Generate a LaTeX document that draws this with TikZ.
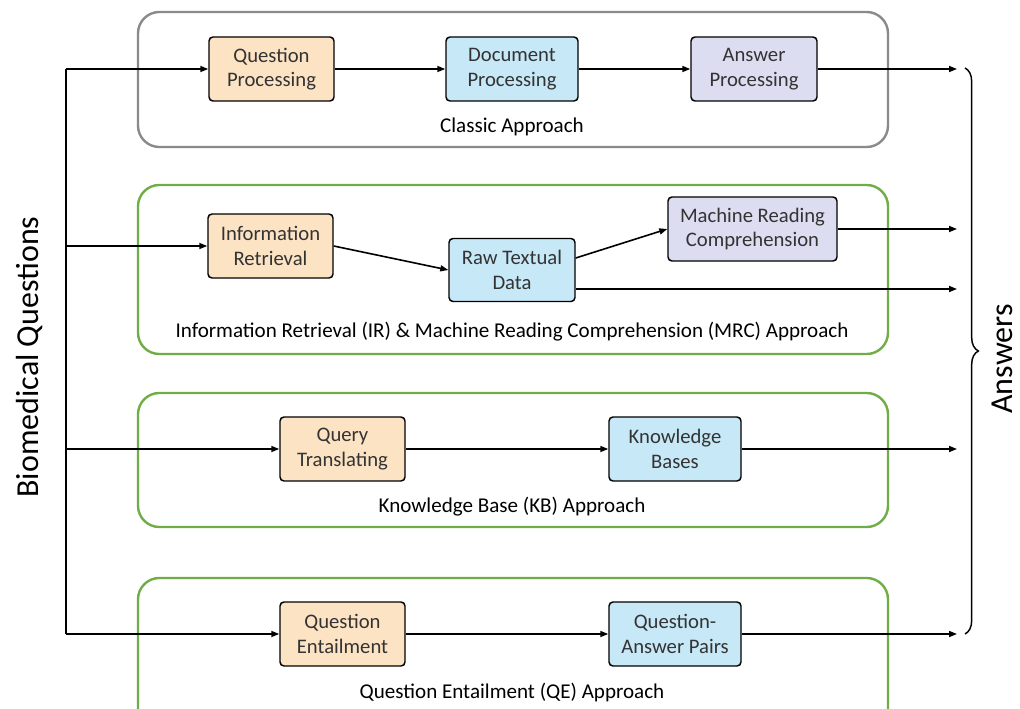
\documentclass[tikz,border=0pt]{standalone}
\usepackage{fontspec}
\setmainfont{Carlito}
\usetikzlibrary{arrows.meta,decorations.pathreplacing}
\definecolor{orangefill}{HTML}{FCE3C4}
\definecolor{bluefill}{HTML}{C6E8F7}
\definecolor{purplefill}{HTML}{DCDDF1}
\definecolor{greenline}{HTML}{70AD47}
\definecolor{grayline}{HTML}{8A8A8A}
\begin{document}
\begin{tikzpicture}[x=0.75pt,y=-0.75pt,
  procbox/.style={draw=black, line width=1.1pt, rounded corners=3pt, align=center, inner sep=0pt,
    minimum height=48pt, text=black!80, font=\fontsize{15.5}{18.5}\selectfont},
  container/.style={line width=1.8pt, rounded corners=16pt},
  grouplabel/.style={font=\fontsize{15.8}{18.5}\selectfont, text=black, inner sep=0pt},
  flow/.style={line width=1.2pt, -{Triangle[length=6pt,width=4.5pt]}},
  trunkline/.style={line width=1.2pt},
  sidelabel/.style={font=\fontsize{24}{28}\selectfont, rotate=90, inner sep=0pt}
]
\useasboundingbox (0,0) rectangle (1020,709);

% containers
\draw[container, draw=grayline] (138,12) rectangle (888,147);
\draw[container, draw=greenline] (138,185) rectangle (888,354);
\draw[container, draw=greenline] (138,393) rectangle (888,527);
\draw[container, draw=greenline] (138,578) rectangle (888,740);

% classic
\node[procbox, fill=orangefill, minimum width=93.75pt] (qp) at (271.5,69) {Question\\Processing};
\node[procbox, fill=bluefill, minimum width=99pt] (dp) at (512,69) {Document\\Processing};
\node[procbox, fill=purplefill, minimum width=94.5pt] (ap) at (754,69) {Answer\\Processing};
\node[grouplabel] (l1) at (512,127) {Classic Approach};

% IR & MRC
\node[procbox, fill=orangefill, minimum width=93.75pt] (ir) at (270.5,246) {Information\\Retrieval};
\node[procbox, fill=bluefill, minimum width=94.5pt, minimum height=47.25pt] (rtd) at (512,270) {Raw Textual\\Data};
\node[procbox, fill=purplefill, minimum width=126.75pt] (mrc) at (752.5,229) {Machine Reading\\Comprehension};
\node[grouplabel] (l2) at (512,332) {Information Retrieval (IR) \& Machine Reading Comprehension (MRC) Approach};

% KB
\node[procbox, fill=orangefill, minimum width=93.75pt] (qt) at (342.5,449) {Query\\Translating};
\node[procbox, fill=bluefill, minimum width=99pt] (kb) at (675,449) {Knowledge\\Bases};
\node[grouplabel] (l3) at (512,507) {Knowledge Base (KB) Approach};

% QE
\node[procbox, fill=orangefill, minimum width=93.75pt] (qe) at (342.5,634) {Question\\Entailment};
\node[procbox, fill=bluefill, minimum width=99pt] (qap) at (675,634) {Question-\\Answer Pairs};
\node[grouplabel] (l4) at (512,692) {Question Entailment (QE) Approach};

% trunk
\coordinate (t1) at (66,69);
\coordinate (t2) at (66,246);
\coordinate (t3) at (66,449);
\coordinate (t4) at (66,634);
\draw[trunkline] (t1) -- (t4);

% outputs
\coordinate (o1) at (957,69);
\coordinate (o2) at (957,229);
\coordinate (o3) at (957,289);
\coordinate (o4) at (957,449);
\coordinate (o5) at (957,634);

\draw[flow] (t1) -- (qp);
\draw[flow] (qp) -- (dp);
\draw[flow] (dp) -- (ap);
\draw[flow] (ap) -- (o1);

\draw[flow] (t2) -- (ir);
\draw[flow] (ir.east) -- (rtd.west);
\draw[flow] ([yshift=9pt]rtd.east) -- (mrc.west);
\draw[flow] (mrc) -- (o2);
\draw[flow] (rtd.east |- o3) -- (o3);

\draw[flow] (t3) -- (qt);
\draw[flow] (qt) -- (kb);
\draw[flow] (kb) -- (o4);

\draw[flow] (t4) -- (qe);
\draw[flow] (qe) -- (qap);
\draw[flow] (qap) -- (o5);

% side labels
\node[sidelabel] (bq) at (30,357) {Biomedical Questions};
\coordinate (bt) at (965,68);
\coordinate (bb) at (965,634);
\draw[line width=1.1pt, decorate, decoration={brace, amplitude=10pt}] (bt) -- (bb);
\node[sidelabel] (ans) at (1002,359) {Answers};
\end{tikzpicture}
\end{document}
